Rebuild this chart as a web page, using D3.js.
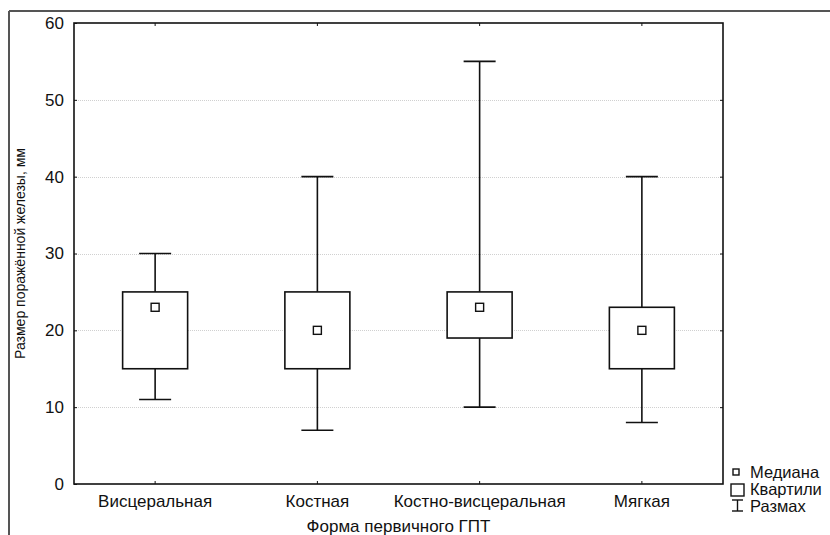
<!DOCTYPE html>
<html>
<head>
<meta charset="utf-8">
<script src="https://cdn.jsdelivr.net/npm/d3@7"></script>
<style>
  html, body { margin: 0; padding: 0; background: #fff; }
  svg { display: block; font-family: "Liberation Sans", Arial, sans-serif; }
</style>
</head>
<body>
<svg id="chart" width="830" height="535"></svg>
<script>
const categories = ["Висцеральная", "Костная", "Костно-висцеральная", "Мягкая"];
const minValues = [11, 7, 10, 8];
const q1Values = [15, 15, 19, 15];
const medianValues = [23, 20, 23, 20];
const q3Values = [25, 25, 25, 23];
const maxValues = [30, 40, 55, 40];
const yTicks = [0, 10, 20, 30, 40, 50, 60];
const legendLabels = ["Медиана", "Квартили", "Размах"];
const xTitle = "Форма первичного ГПТ";
const yTitle = "Размер поражённой железы, мм";

const svg = d3.select("#chart");
const m = { left: 74, top: 23, right: 723, bottom: 484 };

const x = d3.scaleBand().domain(categories).range([m.left, m.right]).padding(0);
const y = d3.scaleLinear().domain([0, 60]).range([m.bottom, m.top]);

// outer frame
svg.append("line").attr("x1", 9).attr("x2", 830).attr("y1", 11).attr("y2", 11)
  .attr("stroke", "#555").attr("stroke-width", 2);
svg.append("line").attr("x1", 9).attr("x2", 9).attr("y1", 11).attr("y2", 535)
  .attr("stroke", "#555").attr("stroke-width", 2);

// gridlines
svg.append("g").selectAll("line").data(yTicks.filter(t => t > 0 && t < 60)).join("line")
  .attr("x1", m.left).attr("x2", m.right)
  .attr("y1", d => Math.round(y(d)) + 0.5).attr("y2", d => Math.round(y(d)) + 0.5)
  .attr("stroke", "#d0d0d0").attr("stroke-width", 1).attr("stroke-dasharray", "1,1");

// axes (ticks inside)
const fs = 17;
const yAxisL = d3.axisLeft(y).tickValues(yTicks).tickSize(-3).tickPadding(10);
const gyl = svg.append("g").attr("transform", `translate(${m.left},0)`).call(yAxisL);
gyl.select(".domain").remove();
gyl.selectAll("text").attr("font-size", fs).attr("fill", "#111").attr("font-family", "Liberation Sans, Arial, sans-serif");
gyl.selectAll("line").attr("stroke", "#111");

const yAxisR = d3.axisRight(y).tickValues(yTicks.filter(t => t > 0 && t < 60)).tickSize(-3).tickFormat("");
const gyr = svg.append("g").attr("transform", `translate(${m.right},0)`).call(yAxisR);
gyr.select(".domain").remove();
gyr.selectAll("line").attr("stroke", "#111");

const xAxisB = d3.axisBottom(x).tickSize(-3).tickPadding(11);
const gxb = svg.append("g").attr("transform", `translate(0,${m.bottom})`).call(xAxisB);
gxb.select(".domain").remove();
gxb.selectAll("text").attr("font-size", fs).attr("fill", "#111").attr("font-family", "Liberation Sans, Arial, sans-serif");
gxb.selectAll("line").attr("stroke", "#111");

const xAxisT = d3.axisTop(x).tickSize(-3).tickFormat("");
const gxt = svg.append("g").attr("transform", `translate(0,${m.top})`).call(xAxisT);
gxt.select(".domain").remove();
gxt.selectAll("line").attr("stroke", "#111");

// plot frame
svg.append("rect").attr("x", m.left).attr("y", m.top)
  .attr("width", m.right - m.left).attr("height", m.bottom - m.top)
  .attr("fill", "none").attr("stroke", "#111").attr("stroke-width", 1.6);

// boxes
const data = categories.map((c, i) => ({
  c, min: minValues[i], q1: q1Values[i], med: medianValues[i], q3: q3Values[i], max: maxValues[i]
}));
const boxW = 65, capW = 32, medS = 8;
const g = svg.append("g").attr("stroke", "#111").attr("stroke-width", 1.6);
data.forEach(d => {
  const cx = x(d.c) + x.bandwidth() / 2;
  g.append("line").attr("x1", cx).attr("x2", cx).attr("y1", y(d.max)).attr("y2", y(d.q3));
  g.append("line").attr("x1", cx).attr("x2", cx).attr("y1", y(d.q1)).attr("y2", y(d.min));
  g.append("line").attr("x1", cx - capW / 2).attr("x2", cx + capW / 2).attr("y1", y(d.max)).attr("y2", y(d.max));
  g.append("line").attr("x1", cx - capW / 2).attr("x2", cx + capW / 2).attr("y1", y(d.min)).attr("y2", y(d.min));
  g.append("rect").attr("x", cx - boxW / 2).attr("y", y(d.q3))
    .attr("width", boxW).attr("height", y(d.q1) - y(d.q3)).attr("fill", "#fff");
  g.append("rect").attr("x", cx - medS / 2).attr("y", y(d.med) - medS / 2)
    .attr("width", medS).attr("height", medS).attr("fill", "#fff").attr("stroke-width", 1.4);
});

// titles
svg.append("text").attr("x", (m.left + m.right) / 2).attr("y", 532)
  .attr("text-anchor", "middle").attr("font-size", fs).attr("fill", "#111").text(xTitle);
svg.append("text").attr("transform", `translate(25,${(m.top + m.bottom) / 2}) rotate(-90)`)
  .attr("text-anchor", "middle").attr("font-size", 14).attr("fill", "#111").text(yTitle);

// legend
const lg = svg.append("g").attr("stroke", "#111").attr("stroke-width", 1.4);
lg.append("rect").attr("x", 733).attr("y", 469).attr("width", 6).attr("height", 6).attr("fill", "#fff");
lg.append("rect").attr("x", 731).attr("y", 484).attr("width", 13).attr("height", 12).attr("fill", "#fff");
lg.append("line").attr("x1", 737.5).attr("x2", 737.5).attr("y1", 500).attr("y2", 511);
lg.append("line").attr("x1", 732).attr("x2", 743).attr("y1", 500).attr("y2", 500);
lg.append("line").attr("x1", 732).attr("x2", 743).attr("y1", 511).attr("y2", 511);
svg.append("g").selectAll("text").data(legendLabels).join("text")
  .attr("x", 750).attr("y", (d, i) => 478 + i * 17)
  .attr("font-size", 16.5).attr("fill", "#111").text(d => d);
</script>
</body>
</html>
